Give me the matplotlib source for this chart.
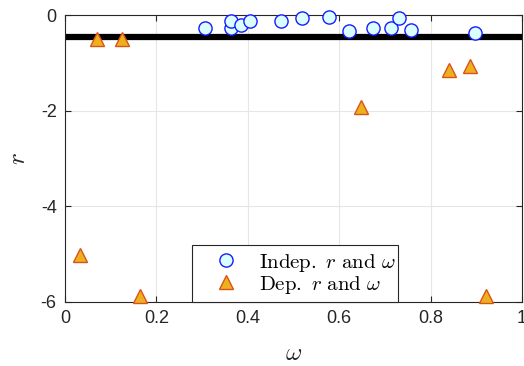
import matplotlib
matplotlib.use("Agg")
import matplotlib.pyplot as plt

plt.rcParams['mathtext.fontset'] = 'cm'
plt.rcParams['font.family'] = ['Liberation Sans', 'DejaVu Sans']

# Independent r and omega
indep_w = [0.306, 0.363, 0.363, 0.385, 0.405, 0.473, 0.519, 0.578, 0.621, 0.674, 0.713, 0.731, 0.757, 0.897]
indep_r = [-0.28, -0.28, -0.13, -0.21, -0.13, -0.13, -0.06, -0.04, -0.33, -0.27, -0.28, -0.06, -0.31, -0.37]

# Dependent r and omega
dep_w = [0.033, 0.070, 0.125, 0.164, 0.648, 0.840, 0.886, 0.921]
dep_r = [-5.02, -0.50, -0.50, -5.87, -1.92, -1.15, -1.07, -5.88]

ref_level = -0.45

fig = plt.figure(figsize=(5.24, 3.66), dpi=100)
ax = fig.add_axes([0.124, 0.175, 0.872, 0.784])

ax.axhline(ref_level, color='black', lw=4.5, zorder=2)
ax.plot(indep_w, indep_r, 'o', ms=9.5, mfc='#d9ffff', mec='#1a1aff', mew=1.0,
        label=r'$\mathrm{Indep.}\ r\ \mathrm{and}\ \omega$', zorder=3, clip_on=False)
ax.plot(dep_w, dep_r, '^', ms=10.5, mfc='#EDB120', mec='#D95319', mew=1.0,
        label=r'$\mathrm{Dep.}\ r\ \mathrm{and}\ \omega$', zorder=3, clip_on=False)

ax.set_xlim(0, 1)
ax.set_ylim(-6, 0)
ax.set_xticks([0, 0.2, 0.4, 0.6, 0.8, 1])
ax.set_xticklabels(['0', '0.2', '0.4', '0.6', '0.8', '1'])
ax.set_yticks([-6, -4, -2, 0])
ax.set_yticklabels(['-6', '-4', '-2', '0'])
ax.tick_params(direction='in', top=True, right=True, labelsize=13, length=4,
               color='#262626', labelcolor='#262626', pad=6)
ax.grid(True, color='#e6e6e6', lw=0.8)
ax.set_axisbelow(True)
for s in ax.spines.values():
    s.set_color('#262626')
    s.set_linewidth(0.8)

ax.set_xlabel(r'$\omega$', fontsize=18, color='#262626', labelpad=10)
ax.set_ylabel(r'$r$', fontsize=18, color='#262626', labelpad=8)

leg = ax.legend(loc='lower left', bbox_to_anchor=(0.278, 0.0, 0.451, 0.19),
                mode='expand', borderaxespad=0, fontsize=15, fancybox=False,
                framealpha=1, edgecolor='#262626', handletextpad=0.2,
                handlelength=2.7, borderpad=0.3, labelspacing=0.0)
leg.get_frame().set_linewidth(0.8)

fig.savefig('out.png', dpi=100)
